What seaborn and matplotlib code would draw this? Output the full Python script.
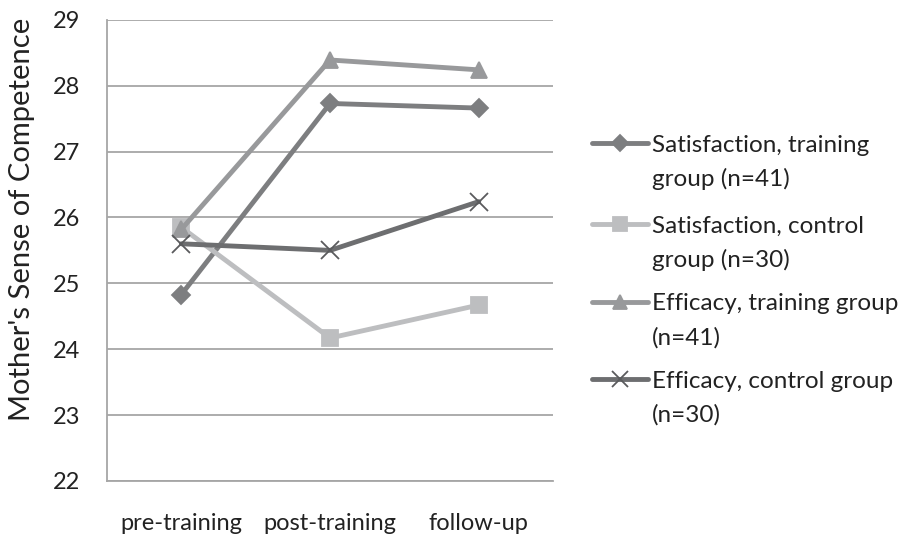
import pandas as pd
import numpy as np
import matplotlib
matplotlib.use('Agg')
from matplotlib import pyplot as plt
from matplotlib.lines import Line2D
import seaborn as sns

# data
phases = ['pre-training', 'post-training', 'follow-up']
sat_training = [24.83, 27.73, 27.66]
sat_control = [25.85, 24.17, 24.67]
eff_training = [25.82, 28.39, 28.24]
eff_control = [25.60, 25.50, 26.24]
series_names = ['Satisfaction, training group (n=41)',
                'Satisfaction, control group (n=30)',
                'Efficacy, training group (n=41)',
                'Efficacy, control group (n=30)']
# legend text wraps like the original
legend_lines = [('Satisfaction, training', 'group (n=41)'),
                ('Satisfaction, control', 'group (n=30)'),
                ('Efficacy, training group', '(n=41)'),
                ('Efficacy, control group', '(n=30)')]

sns.set_style('white')
plt.rcParams['font.family'] = ['Lato', 'DejaVu Sans']

colors = ['#7d7e80', '#bdbec0', '#98999b', '#6d6e70']
markers = ['D', 's', '^', 'x']
msizes = [9, 12, 12, 13]
txt = '#222222'

W, H = 903, 535
fig = plt.figure(figsize=(W / 100, H / 100), dpi=100)
ax = fig.add_axes([0.1185, 0.101, 0.494, 0.862])

for name, vals, c, m, ms in zip(series_names, [sat_training, sat_control, eff_training, eff_control],
                                colors, markers, msizes):
    d = pd.DataFrame({'phase': range(len(phases)), 'score': vals})
    ec = '#5a5b5d' if m == 'x' else c
    sns.lineplot(data=d, x='phase', y='score', color=c, marker=m, linewidth=3.5,
                 markersize=ms, markerfacecolor=c, markeredgecolor=ec,
                 markeredgewidth=1.3, ax=ax, label=name, legend=False)

ax.set_xlim(-0.5, 2.5)
ax.set_ylim(22, 29)
ax.set_xticks(range(3))
ax.set_xticklabels(phases, fontsize=17, color=txt)
ax.set_yticks(range(22, 30))
ax.tick_params(axis='y', labelsize=17, labelcolor=txt, length=0, pad=19)
ax.tick_params(axis='x', length=0, pad=23)
ax.set_xlabel('')
ax.set_ylabel("Mother's Sense of Competence", fontsize=21, color=txt)
ax.yaxis.set_label_coords(-0.161, 0.568)
ax.yaxis.grid(True, color='#a6a6a6', linewidth=1.3)
ax.set_axisbelow(True)
for s in ['top', 'right']:
    ax.spines[s].set_visible(False)
ax.spines['left'].set_color('#a6a6a6')
ax.spines['left'].set_linewidth(1.3)
ax.spines['bottom'].set_color('#a6a6a6')
ax.spines['bottom'].set_linewidth(1.3)

# legend drawn by hand: key sits beside the first line of each wrapped label
key_x0, key_x1, text_x = 592, 648, 652
first_y = [143, 224, 302, 379]
line_gap = 34
for l, (first, second), y in zip(ax.lines, legend_lines, first_y):
    fy = 1 - y / H
    fig.add_artist(Line2D([key_x0 / W, key_x1 / W], [fy, fy], transform=fig.transFigure,
                          color=l.get_color(), linewidth=3.5))
    fig.add_artist(Line2D([(key_x0 + key_x1) / 2 / W], [fy], transform=fig.transFigure,
                          linestyle='none', marker=l.get_marker(),
                          markersize=l.get_markersize() * 0.85,
                          markerfacecolor=l.get_markerfacecolor(),
                          markeredgecolor=l.get_markeredgecolor(),
                          markeredgewidth=l.get_markeredgewidth()))
    fig.text(text_x / W, fy, first, fontsize=17.5, color=txt, va='center_baseline', ha='left')
    fig.text(text_x / W, 1 - (y + line_gap) / H, second, fontsize=17.5, color=txt,
             va='center_baseline', ha='left')

fig.savefig('out.png', dpi=100)
